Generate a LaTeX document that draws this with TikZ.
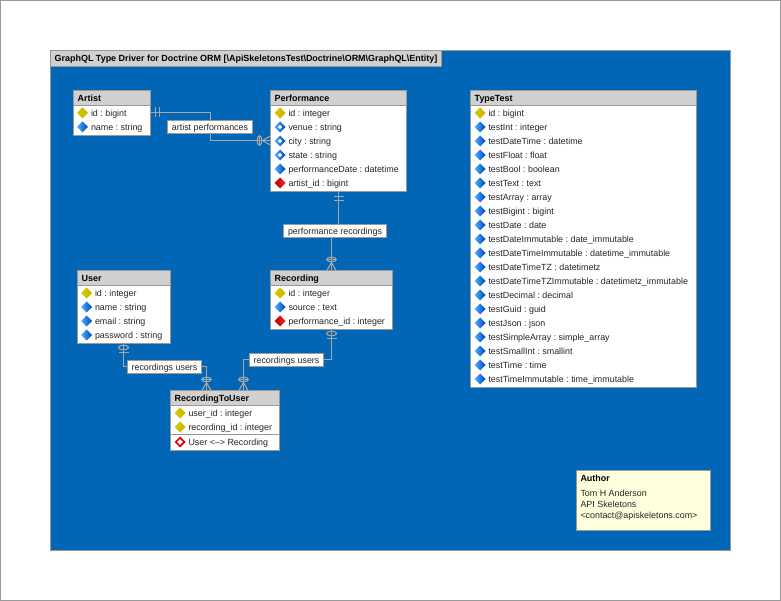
\documentclass[tikz,border=0pt]{standalone}
\usepackage{fontspec}
\setmainfont{Liberation Sans}
\frenchspacing
\definecolor{panelblue}{HTML}{0066B5}
\definecolor{edgegray}{HTML}{999999}
\definecolor{headgray}{HTML}{D0D0D0}
\definecolor{notefill}{HTML}{FFFFDD}
\definecolor{linkgray}{HTML}{A6A6A6}
\tikzset{
  x=1pt,y=-1pt,
  txt/.style={inner sep=0pt,anchor=west,text height=6.5pt,text depth=2pt,yshift=-1pt,font=\frenchspacing\fontsize{8.9}{11}\selectfont,text=black!85},
  ttl/.style={txt,font=\frenchspacing\fontsize{8.95}{11}\selectfont\bfseries,text=black},
  tbl/.style={draw=edgegray,fill=white,line width=1pt,inner sep=0pt,outer sep=0pt,rectangle},
  hdr/.style={draw=edgegray,fill=headgray,line width=1pt},
  lbl/.style={draw=edgegray,fill=white,line width=1pt,inner sep=0pt,outer sep=0pt,rectangle,minimum height=13pt,font=\frenchspacing\fontsize{8.9}{11}\selectfont,text=black!85,text height=7.5pt,text depth=1pt},
  conn/.style={draw=linkgray,line width=1.3pt},
  endline/.style={draw=linkgray,line width=1.1pt},
  kicon/.pic={\shade[left color=yellow!80!black,right color=yellow!60!orange!85!black] (-5.5,0)--(0,-5.5)--(5.5,0)--(0,5.5)--cycle;},
  ficon/.pic={\shade[left color=blue!45!cyan!70!white,right color=blue!60!cyan!70!black] (-5.5,0)--(0,-5.5)--(5.5,0)--(0,5.5)--cycle;},
  xicon/.pic={\shade[left color=red!70!black,right color=red!85!white] (-5.5,0)--(0,-5.5)--(5.5,0)--(0,5.5)--cycle;},
  nicon/.pic={\shade[left color=blue!45!cyan!70!white,right color=blue!60!cyan!70!black] (-5.5,0)--(0,-5.5)--(5.5,0)--(0,5.5)--cycle; \fill[white] (-2.2,0)--(0,-2.2)--(2.2,0)--(0,2.2)--cycle;},
  vicon/.pic={\fill[red!90!black] (-5.5,0)--(0,-5.5)--(5.5,0)--(0,5.5)--cycle; \fill[white] (-2.8,0)--(0,-2.8)--(2.8,0)--(0,2.8)--cycle;},
  onemark/.pic={\draw[endline] (5,-5)--(5,5) (9,-5)--(9,5);},
  ringbar/.pic={\draw[endline] (4,0) ellipse[x radius=2.3,y radius=5]; \draw[endline] (9,-5)--(9,5);},
  crow/.pic={\draw[endline] (8,0)--(0,-4.5) (8,0)--(0,4.5); \draw[endline] (11,0) ellipse[x radius=2.3,y radius=4.8]; \draw[endline] (11,-5.5)--(11,5.5);}
}
\newcommand{\enttbl}[6]{% name, title, x1,y1,x2,y2
  \pgfmathsetmacro{\tw}{#5-#3}\pgfmathsetmacro{\th}{#6-#4}
  \pgfmathsetmacro{\tcx}{(#3+#5)/2}\pgfmathsetmacro{\tcy}{(#4+#6)/2}
  \node[tbl,minimum width=\tw pt,minimum height=\th pt] (#1) at (\tcx,\tcy) {};
  \draw[hdr] (#3,#4) rectangle (#5,#4+15);
  \node[ttl] (#1-title) at (#3+4,#4+7.5) {#2};
}
\newcommand{\entrow}[6]{% name, icon, x-left, y, icon offset, text
  \pic at (#3+#5,#4) {#2};
  \node[txt] (#1) at (#3+#5+8.3,#4) {#6};
}
\begin{document}
\begin{tikzpicture}
\useasboundingbox (0,0) rectangle (781,601);
\draw[draw=edgegray,line width=1pt] (.5,.5) rectangle (780.5,600.5);
\node[draw=edgegray,fill=panelblue,line width=1pt,inner sep=0pt,outer sep=0pt,minimum width=680pt,minimum height=499pt] (panel) at (390.5,300.5) {};
\node[draw=edgegray,fill=headgray,line width=1pt,inner sep=0pt,outer sep=0pt,minimum width=391pt,minimum height=16pt] (tab) at (246,58.5) {};
\node[ttl] (tabtext) at (54.5,58) {GraphQL Type Driver for Doctrine ORM [\textbackslash ApiSkeletonsTest\textbackslash Doctrine\textbackslash ORM\textbackslash GraphQL\textbackslash Entity]};

% Tables
\enttbl{artist}{Artist}{73.5}{90.5}{150.5}{135.5}
\entrow{art-1}{kicon}{73.5}{113}{9}{id : bigint}
\entrow{art-2}{ficon}{73.5}{127}{9}{name : string}

\enttbl{perf}{Performance}{270.5}{90.5}{406.5}{191.5}
\entrow{perf-1}{kicon}{270.5}{113}{9.5}{id : integer}
\entrow{perf-2}{nicon}{270.5}{127}{9.5}{venue : string}
\entrow{perf-3}{nicon}{270.5}{141}{9.5}{city : string}
\entrow{perf-4}{nicon}{270.5}{155}{9.5}{state : string}
\entrow{perf-5}{ficon}{270.5}{169}{9.5}{performanceDate : datetime}
\entrow{perf-6}{xicon}{270.5}{183}{9.5}{artist\_id : bigint}

\enttbl{rec}{Recording}{270.5}{270.5}{392.5}{329.5}
\entrow{rec-1}{kicon}{270.5}{293}{9.5}{id : integer}
\entrow{rec-2}{ficon}{270.5}{307}{9.5}{source : text}
\entrow{rec-3}{xicon}{270.5}{321}{9.5}{performance\_id : integer}

\enttbl{user}{User}{77.5}{270.5}{170.5}{343.5}
\entrow{user-1}{kicon}{77.5}{293}{9}{id : integer}
\entrow{user-2}{ficon}{77.5}{307}{9}{name : string}
\entrow{user-3}{ficon}{77.5}{321}{9}{email : string}
\entrow{user-4}{ficon}{77.5}{335}{9}{password : string}

\enttbl{rtu}{RecordingToUser}{170.5}{390.5}{279.5}{450.5}
\entrow{rtu-1}{kicon}{170.5}{413}{9.5}{user\_id : integer}
\entrow{rtu-2}{kicon}{170.5}{427}{9.5}{recording\_id : integer}
\draw[hdr] (rtu.west |- 0,434.5) -- (rtu.east |- 0,434.5);
\entrow{rtu-3}{vicon}{170.5}{442}{9.5}{User <--> Recording}

\enttbl{tt}{TypeTest}{470.5}{90.5}{696.5}{387.5}
\entrow{tt-1}{kicon}{470.5}{113}{9.5}{id : bigint}
\foreach \rowtext [count=\i from 2, evaluate=\i as \ry using int(113+14*(\i-1))] in {
  testInt : integer,
  testDateTime : datetime,
  testFloat : float,
  testBool : boolean,
  testText : text,
  testArray : array,
  testBigint : bigint,
  testDate : date,
  testDateImmutable : date\_immutable,
  testDateTimeImmutable : datetime\_immutable,
  testDateTimeTZ : datetimetz,
  testDateTimeTZImmutable : datetimetz\_immutable,
  testDecimal : decimal,
  testGuid : guid,
  testJson : json,
  testSimpleArray : simple\_array,
  testSmallInt : smallint,
  testTime : time,
  testTimeImmutable : time\_immutable}{
  \entrow{tt-\i}{ficon}{470.5}{\ry}{9.5}{\rowtext}
}

% Author note
\node[draw=edgegray,fill=notefill,line width=1pt,inner sep=0pt,outer sep=0pt,minimum width=134pt,minimum height=60pt] (note) at (643.5,500.5) {};
\node[ttl] (note-title) at (580.3,478) {Author};
\node[txt] (note-1) at (580.3,493) {Tom H Anderson};
\node[txt] (note-2) at (580.3,504) {API Skeletons};
\node[txt] (note-3) at (580.3,515) {<contact@apiskeletons.com>};

% Connector routing points (on pixel centres)
\coordinate (artOut) at (150.5,112.5);
\coordinate (perfIn) at (270.5,140.5);
\coordinate (midA) at (210.5,127);
\coordinate (midB) at (335,231);
\coordinate (midC) at (286.5,359.5);
\coordinate (midD) at (164.5,366.5);
\coordinate (userOut) at (123.5,343.5);
\coordinate (rtuA) at (243.5,390.5);
\coordinate (rtuB) at (206.5,390.5);

% Connectors
\draw[conn] (artOut) -| (midA) |- (perfIn);
\draw[conn] (perf.south) -- (perf.south |- midB) -- (rec.north |- midB) -- (rec.north);
\draw[conn] (rec.south) |- (midC) -| (rtuA);
\draw[conn] (userOut) |- (midD) -| (rtuB);

% Labels
\node[lbl,minimum width=85pt] (lblA) at (210,127) {artist performances};
\node[lbl,minimum width=103pt] (lblB) at (335,231) {performance recordings};
\node[lbl,minimum width=74pt] (lblC) at (286.5,360) {recordings users};
\node[lbl,minimum width=74pt] (lblD) at (164.5,367) {recordings users};

% End marks
\pic at (artOut) {onemark};
\pic[rotate=180] at (perfIn) {crow};
\pic[rotate=-90] at (perf.south) {onemark};
\pic[rotate=90] at (rec.north) {crow};
\pic[rotate=-90] at (rec.south) {ringbar};
\pic[rotate=90] at (rtuA) {crow};
\pic[rotate=90] at (rtuB) {crow};
\pic[rotate=-90] at (userOut) {ringbar};
\end{tikzpicture}
\end{document}
